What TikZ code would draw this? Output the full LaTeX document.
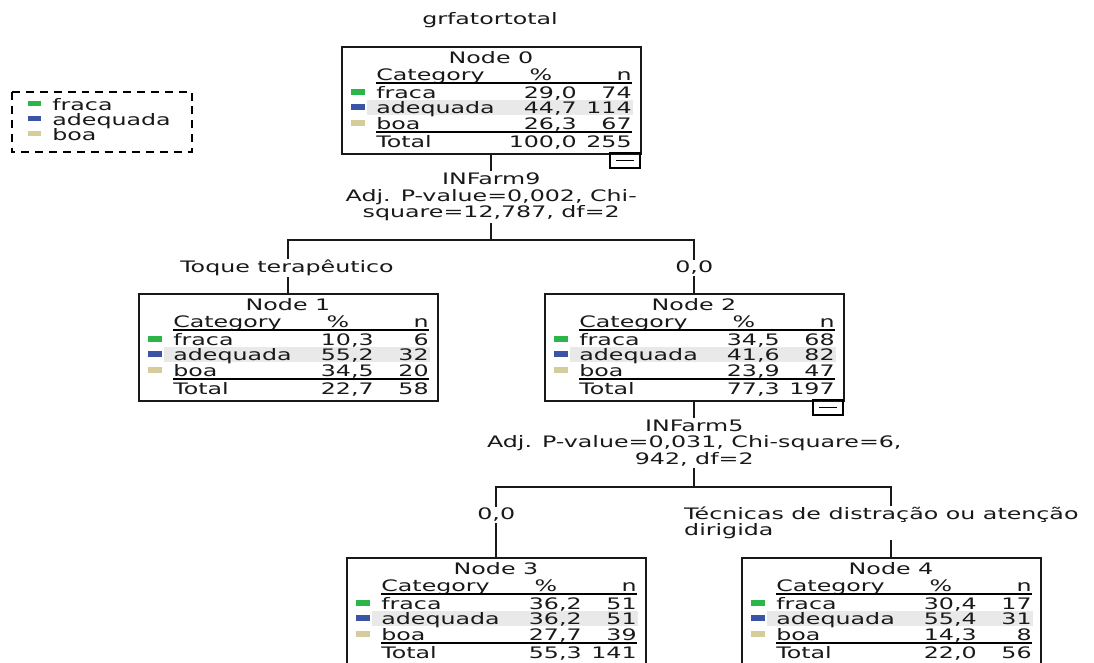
\documentclass[tikz,border=0pt]{standalone}
\usepackage{fontspec}
\setmainfont{DejaVu Sans}[FakeStretch=1.5]
\usetikzlibrary{positioning}

\definecolor{fracagreen}{RGB}{44,182,74}
\definecolor{adeqblue}{RGB}{58,84,166}
\definecolor{boabeige}{RGB}{212,205,155}
\definecolor{bandgray}{RGB}{233,233,233}

\tikzset{
  every node/.style={font=\fontsize{9}{9.4}\selectfont, text=black!90, inner sep=1pt},
  catbox/.style={draw=black!90, line width=0.9pt, minimum width=5.98cm, minimum height=2.14cm, anchor=north west, inner sep=0pt},
  cell/.style={text height=7.7pt, text depth=0.8pt, inner sep=0pt},
  splittxt/.style={align=center, inner sep=1pt},
  edgelbl/.style={fill=white, inner sep=0.5pt},
  link/.style={draw=black!90, line width=0.9pt}
}

% body of one category box, in box coordinates
\newcommand{\catrows}[9]{%
  \node[cell] at (150,11) {#1};
  \node[cell, anchor=west] at (35,28) {Category};
  \node[cell] at (200,28) {\%};
  \node[cell, anchor=east] at (291,28) {n};
  \draw[line width=0.7pt] (35,37) -- (291,37);
  \fill[bandgray] (26,54) rectangle (292,69);
  \fill[fracagreen] (10,43) rectangle (24,49);
  \fill[adeqblue] (10,58) rectangle (24,64);
  \fill[boabeige] (10,74) rectangle (24,80);
  \node[cell, anchor=west] at (35,46) {fraca};
  \node[cell, anchor=west] at (35,61) {adequada};
  \node[cell, anchor=west] at (35,77) {boa};
  \node[cell, anchor=east] at (236,46) {#2};
  \node[cell, anchor=east] at (291,46) {#3};
  \node[cell, anchor=east] at (236,61) {#4};
  \node[cell, anchor=east] at (291,61) {#5};
  \node[cell, anchor=east] at (236,77) {#6};
  \node[cell, anchor=east] at (291,77) {#7};
  \draw[line width=0.7pt] (35,86) -- (291,86);
  \node[cell, anchor=west] at (35,95) {Total};
  \node[cell, anchor=east] at (236,95) {#8};
  \node[cell, anchor=east] at (291,95) {#9};
}

\begin{document}
\begin{tikzpicture}[x=0.02cm, y=-0.02cm]
  \useasboundingbox (0,0) rectangle (1094,662);
  \clip (0,0) rectangle (1094,662);

  \node (title) at (490,20) {grfatortotal};

  % legend
  \draw[line width=0.9pt, dash pattern=on 4.5pt off 3.4pt] (12,92) rectangle (192,152);
  \fill[fracagreen] (28,101) rectangle (41,106);
  \fill[adeqblue] (28,116) rectangle (41,121);
  \fill[boabeige] (28,131) rectangle (41,136);
  \node[cell, anchor=west] (lg1) at (52,104) {fraca};
  \node[cell, anchor=west] (lg2) at (52,119) {adequada};
  \node[cell, anchor=west] (lg3) at (52,134) {boa};

  % boxes
  \node[catbox] (n0) at (341,46) {};
  \node[catbox] (n1) at (138,293) {};
  \node[catbox] (n2) at (544,293) {};
  \node[catbox] (n3) at (346,557) {};
  \node[catbox] (n4) at (741,557) {};

  \begin{scope}[shift={(n0.north west)}]
    \catrows{Node 0}{29,0}{74}{44,7}{114}{26,3}{67}{100,0}{255}
    \draw[line width=0.9pt] (269,107) rectangle (299,122);
    \draw[line width=0.7pt] (275,114.5) -- (293,114.5);
  \end{scope}
  \begin{scope}[shift={(n1.north west)}]
    \catrows{Node 1}{10,3}{6}{55,2}{32}{34,5}{20}{22,7}{58}
  \end{scope}
  \begin{scope}[shift={(n2.north west)}]
    \catrows{Node 2}{34,5}{68}{41,6}{82}{23,9}{47}{77,3}{197}
    \draw[line width=0.9pt] (269,107) rectangle (299,122);
    \draw[line width=0.7pt] (275,114.5) -- (293,114.5);
  \end{scope}
  \begin{scope}[shift={(n3.north west)}]
    \catrows{Node 3}{36,2}{51}{36,2}{51}{27,7}{39}{55,3}{141}
  \end{scope}
  \begin{scope}[shift={(n4.north west)}]
    \catrows{Node 4}{30,4}{17}{55,4}{31}{14,3}{8}{22,0}{56}
  \end{scope}

  % first split
  \node[splittxt] (s0) at (n0.south |- 0,197) {INFarm9\\Adj. P-value=0,002, Chi-\\square=12,787, df=2};
  \coordinate (j0) at (n0.south |- 0,240);
  \draw[link] (n0.south) -- (s0.north);
  \draw[link] (s0.south) -- (j0);
  \draw[link] (n1.north) |- (j0) -| (n2.north);
  \node[edgelbl] (e1) at (287,268) {Toque terapêutico};
  \node[edgelbl] (e2) at (n2.north |- 0,268) {0,0};

  % second split
  \node[splittxt] (s1) at (n2.south |- 0,443) {INFarm5\\Adj. P-value=0,031, Chi-square=6,\\942, df=2};
  \coordinate (j1) at (n2.south |- 0,487);
  \draw[link] (n2.south) -- (s1.north);
  \draw[link] (s1.south) -- (j1);
  \draw[link] (n3.north) |- (j1) -| (n4.north);
  \node[edgelbl] (e3) at (n3.north |- 0,515) {0,0};
  \node[edgelbl, anchor=west, align=left] (e4) at (683,523) {Técnicas de distração ou atenção\\dirigida};
\end{tikzpicture}
\end{document}
